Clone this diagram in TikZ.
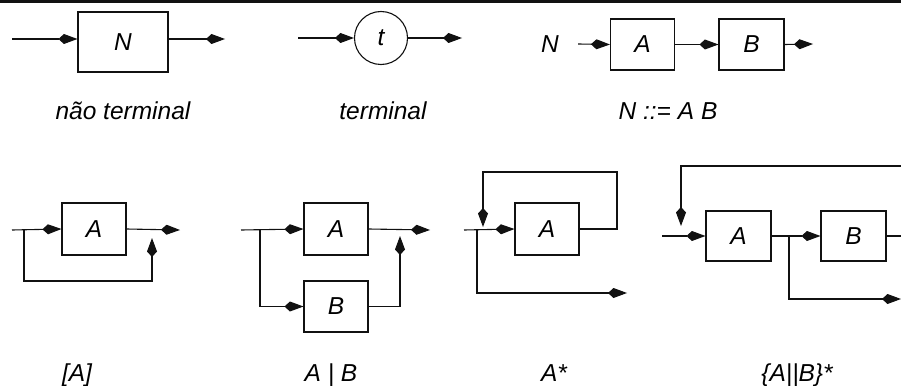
\documentclass[tikz,border=0pt]{standalone}
\usepackage{fontspec}
\setmainfont{Liberation Sans}
\usetikzlibrary{arrows.meta}
\definecolor{ink}{HTML}{111111}
\newcommand{\lab}{\fontsize{24.5}{28}\selectfont\itshape}
\tikzset{
  blk/.style={draw=ink,line width=1.1pt,inner sep=0,font=\lab},
  flow/.style={ink,line width=1.1pt,-{Kite[length=19pt,width=10pt,inset=5.5pt]}},
  wire/.style={ink,line width=1.1pt},
  capt/.style={anchor=base,inner sep=0,font=\lab}
}
\begin{document}
\begin{tikzpicture}[x=1pt,y=-1pt]
\useasboundingbox (0,0) rectangle (901,385);
\draw[ink,line width=3pt] (0,1.5) -- (901,1.5);
\coordinate (ntIn) at (12,39);
\coordinate (ntOut) at (225,39);
\node[blk,minimum width=90pt,minimum height=60pt] (nt) at (123,42) {N};
\draw[flow] (ntIn) -- (ntIn -| nt.west);
\draw[flow] (nt.east |- ntOut) -- (ntOut);
\node[capt] (ntLbl) at (123,120) {não terminal};
\coordinate (tIn) at (298,38);
\coordinate (tOut) at (462,38);
\node[blk,circle,minimum size=53pt] (t) at (381,38) {t};
\draw[flow] (tIn) -- (t.west);
\draw[flow] (t.east) -- (tOut);
\node[capt] (tLbl) at (383,120) {terminal};
\node[inner sep=0,font=\lab] (sqN) at (550,44) {N};
\coordinate (sqIn) at (578,44);
\coordinate (sqOut) at (813,44);
\node[blk,minimum width=64pt,minimum height=51pt] (sqA) at (642.5,44.5) {A};
\node[blk,minimum width=65pt,minimum height=51pt] (sqB) at (751.5,44.5) {B};
\draw[flow] (sqIn) -- (sqA.west);
\draw[flow] (sqA.east) -- (sqB.west);
\draw[flow] (sqB.east) -- (sqOut);
\node[capt] (sqLbl) at (668,120) {N ::= A B};
\coordinate (oIn) at (12,230);
\coordinate (oSplit) at (24,230);
\coordinate (oOut) at (180,230);
\coordinate (oLow) at (152,281);
\coordinate (oJoin) at (152,230);
\node[blk,minimum width=64pt,minimum height=52pt] (oA) at (94,229) {A};
\draw[flow] (oIn) -- (oA.west);
\draw[flow] (oA.east) -- (oOut);
\draw[flow,shorten >=8pt] (oSplit) |- (oLow) -- (oJoin);
\node[capt] (oLbl) at (77,381) {[A]};
\coordinate (alIn) at (241,230);
\coordinate (alSplit) at (260,230);
\coordinate (alOut) at (430,230);
\coordinate (alJoin) at (400,230);
\node[blk,minimum width=64pt,minimum height=52pt] (alA) at (336,229) {A};
\node[blk,minimum width=64pt,minimum height=51pt] (alB) at (336,306.5) {B};
\draw[flow] (alIn) -- (alA.west);
\draw[flow] (alSplit) |- (alB.west);
\draw[flow] (alA.east) -- (alOut);
\draw[flow,shorten >=6pt] (alB.east) -| (alJoin);
\node[capt] (alLbl) at (331,381) {A | B};
\coordinate (stIn) at (464,230);
\coordinate (stSplit) at (477,230);
\coordinate (stOut) at (627,293);
\coordinate (stTop) at (617,172);
\coordinate (stJoin) at (483,230);
\node[blk,minimum width=64pt,minimum height=52pt] (stA) at (547,229) {A};
\draw[flow] (stIn) -- (stA.west);
\draw[flow,shorten >=3pt] (stA.east) -| (stTop) -| (stJoin);
\draw[flow] (stSplit) |- (stOut);
\node[capt] (stLbl) at (554,381) {A*};
\coordinate (rpIn) at (662,236);
\coordinate (rpSplit) at (789,236);
\coordinate (rpOut) at (901,299);
\coordinate (rpTop) at (901,166);
\coordinate (rpJoin) at (681,236);
\coordinate (rpEnd) at (901,236);
\node[blk,minimum width=65pt,minimum height=50pt] (rpA) at (738.5,236) {A};
\node[blk,minimum width=65pt,minimum height=50pt] (rpB) at (853.5,236) {B};
\draw[flow] (rpIn) -- (rpA.west);
\draw[flow] (rpA.east) -- (rpB.west);
\draw[wire] (rpB.east) -- (rpEnd);
\draw[flow] (rpSplit) |- (rpOut);
\draw[flow,shorten >=10pt] (rpTop) -| (rpJoin);
\node[capt] (rpLbl) at (797,381) {\{A||B\}*};
\end{tikzpicture}
\end{document}
